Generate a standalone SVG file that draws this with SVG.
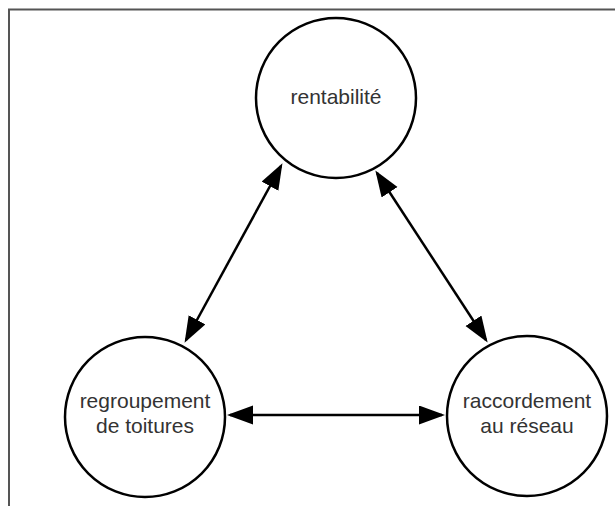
<svg xmlns="http://www.w3.org/2000/svg" width="615" height="506" viewBox="0 0 615 506">
<defs>
<style>
.node circle{fill:#fff;stroke:#000;stroke-width:2.5}
.node text{font-family:"Liberation Sans",Arial,sans-serif;font-size:21px;fill:#333;text-anchor:middle}
.conn line{stroke:#000;stroke-width:2.5;marker-start:url(#ah);marker-end:url(#ah)}
</style>
<marker id="ah" markerUnits="userSpaceOnUse" markerWidth="28" markerHeight="20" refX="23" refY="9.5" orient="auto-start-reverse" viewBox="0 0 28 20">
<path d="M0,0 L26,9.5 L0,19 z" fill="#000"/>
</marker>
</defs>
<rect x="0" y="0" width="615" height="506" fill="#fff"/>
<rect x="9" y="9.5" width="620" height="510" fill="none" stroke="#555" stroke-width="2"/>
<g class="conn" id="connectors">
<line x1="186" y1="340" x2="281" y2="166"/>
<line x1="377" y1="173" x2="486" y2="340"/>
<line x1="230" y1="415" x2="442" y2="415"/>
</g>
<g class="node" id="rentabilite">
<circle cx="336" cy="98" r="80"/>
<text x="336" y="104">rentabilité</text>
</g>
<g class="node" id="regroupement">
<circle cx="145" cy="417" r="80"/>
<text x="145" y="408">regroupement</text>
<text x="145" y="433">de toitures</text>
</g>
<g class="node" id="raccordement">
<circle cx="527" cy="416" r="80"/>
<text x="527" y="408">raccordement</text>
<text x="527" y="433">au réseau</text>
</g>
</svg>
